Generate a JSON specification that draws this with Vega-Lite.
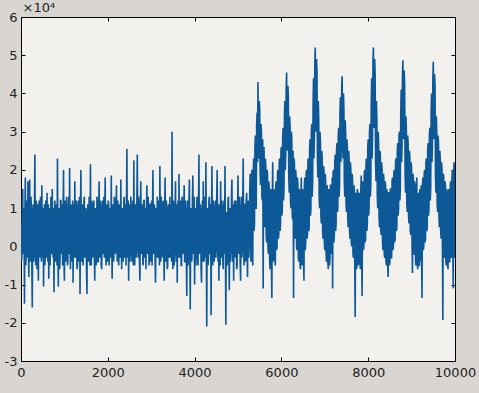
{
"$schema": "https://vega.github.io/schema/vega-lite/v6.json",
"width": 434,
"height": 344,
"autosize": {"type": "none"},
"padding": {"left": 21, "top": 17, "right": 24, "bottom": 32},
"background": "#d9d6d2",
"config": {
  "view": {"fill": "#f3f1ee", "stroke": "#000000", "strokeWidth": 1},
  "axis": {"labelFont": "DejaVu Sans", "labelFontSize": 13, "labelColor": "#222222", "titleFont": "DejaVu Sans", "grid": false, "domain": false, "tickColor": "#000000", "tickSize": -4, "labelFlush": false, "labelOverlap": false}
},
"layer": [
{
"data": {"values": [
{"x":0,"y":0.6},{"x":10,"y":-0.4},{"x":20,"y":-0.3},{"x":30,"y":1.1},{"x":40,"y":1.5},{"x":50,"y":-0.2},{"x":60,"y":0.1},{"x":70,"y":1.0},{"x":80,"y":-1.5},{"x":90,"y":0.9},
{"x":100,"y":1.8},{"x":110,"y":-0.5},{"x":120,"y":-0.2},{"x":130,"y":1.2},{"x":140,"y":1.0},{"x":150,"y":-0.3},{"x":160,"y":1.7},{"x":170,"y":0.0},{"x":180,"y":-0.8},{"x":190,"y":1.1},
{"x":200,"y":1.75},{"x":210,"y":-0.2},{"x":220,"y":-0.4},{"x":230,"y":1.3},{"x":240,"y":0.9},{"x":250,"y":-0.5},{"x":260,"y":-1.6},{"x":270,"y":0.8},{"x":280,"y":1.1},{"x":290,"y":-0.4},
{"x":300,"y":-0.2},{"x":310,"y":1.0},{"x":320,"y":2.4},{"x":330,"y":-0.1},{"x":340,"y":-0.5},{"x":350,"y":1.2},{"x":360,"y":0.8},{"x":370,"y":-0.6},{"x":380,"y":-0.1},{"x":390,"y":1.1},
{"x":400,"y":-0.9},{"x":410,"y":0.9},{"x":420,"y":1.2},{"x":430,"y":-0.3},{"x":440,"y":0.0},{"x":450,"y":1.3},{"x":460,"y":0.9},{"x":470,"y":-0.4},{"x":480,"y":1.6},{"x":490,"y":0.1},
{"x":500,"y":-0.3},{"x":510,"y":1.0},{"x":520,"y":-1.05},{"x":530,"y":0.8},{"x":540,"y":1.1},{"x":550,"y":-0.5},{"x":560,"y":-0.2},{"x":570,"y":1.2},{"x":580,"y":0.7},{"x":590,"y":-0.3},
{"x":600,"y":1.4},{"x":610,"y":0.0},{"x":620,"y":-0.4},{"x":630,"y":1.1},{"x":640,"y":-0.85},{"x":650,"y":0.9},{"x":660,"y":1.0},{"x":670,"y":-0.5},{"x":680,"y":0.1},{"x":690,"y":1.3},
{"x":700,"y":0.8},{"x":710,"y":-0.2},{"x":720,"y":1.5},{"x":730,"y":0.1},{"x":740,"y":-0.3},{"x":750,"y":1.0},{"x":760,"y":-1.2},{"x":770,"y":0.7},{"x":780,"y":1.2},{"x":790,"y":-0.4},
{"x":800,"y":-0.2},{"x":810,"y":1.1},{"x":820,"y":0.6},{"x":830,"y":-0.5},{"x":840,"y":2.3},{"x":850,"y":0.2},{"x":860,"y":-1.05},{"x":870,"y":1.0},{"x":880,"y":0.9},{"x":890,"y":-0.6},
{"x":900,"y":-0.3},{"x":910,"y":1.2},{"x":920,"y":1.2},{"x":930,"y":-0.2},{"x":940,"y":0.0},{"x":950,"y":1.1},{"x":960,"y":-0.5},{"x":970,"y":0.9},{"x":980,"y":2.0},{"x":990,"y":-0.3},
{"x":1000,"y":-0.9},{"x":1010,"y":1.2},{"x":1020,"y":1.0},{"x":1030,"y":-0.4},{"x":1040,"y":-0.1},{"x":1050,"y":1.3},{"x":1060,"y":0.8},{"x":1070,"y":-0.5},{"x":1080,"y":-0.4},{"x":1090,"y":0.9},
{"x":1100,"y":1.3},{"x":1110,"y":-0.2},{"x":1120,"y":2.05},{"x":1130,"y":0.3},{"x":1140,"y":-0.6},{"x":1150,"y":1.1},{"x":1160,"y":0.7},{"x":1170,"y":-0.4},{"x":1180,"y":0.1},{"x":1190,"y":1.2},
{"x":1200,"y":-0.95},{"x":1210,"y":0.8},{"x":1220,"y":1.1},{"x":1230,"y":-0.3},{"x":1240,"y":1.7},{"x":1250,"y":0.0},{"x":1260,"y":-0.3},{"x":1270,"y":1.2},{"x":1280,"y":0.9},{"x":1290,"y":-0.6},
{"x":1300,"y":-0.5},{"x":1310,"y":1.0},{"x":1320,"y":1.2},{"x":1330,"y":-0.4},{"x":1340,"y":0.2},{"x":1350,"y":1.3},{"x":1360,"y":-1.25},{"x":1370,"y":0.7},{"x":1380,"y":2.0},{"x":1390,"y":-0.2},
{"x":1400,"y":-0.4},{"x":1410,"y":1.1},{"x":1420,"y":0.9},{"x":1430,"y":-0.5},{"x":1440,"y":-0.1},{"x":1450,"y":1.2},{"x":1460,"y":1.3},{"x":1470,"y":-0.3},{"x":1480,"y":0.0},{"x":1490,"y":1.0},
{"x":1500,"y":0.8},{"x":1510,"y":-0.6},{"x":1520,"y":-1.25},{"x":1530,"y":0.9},{"x":1540,"y":1.1},{"x":1550,"y":-0.4},{"x":1560,"y":-0.3},{"x":1570,"y":1.3},{"x":1580,"y":0.7},{"x":1590,"y":-0.5},
{"x":1600,"y":2.15},{"x":1610,"y":0.1},{"x":1620,"y":-0.5},{"x":1630,"y":1.2},{"x":1640,"y":1.0},{"x":1650,"y":-0.3},{"x":1660,"y":0.1},{"x":1670,"y":1.1},{"x":1680,"y":1.2},{"x":1690,"y":-0.2},
{"x":1700,"y":-0.9},{"x":1710,"y":1.0},{"x":1720,"y":0.6},{"x":1730,"y":-0.5},{"x":1740,"y":-0.2},{"x":1750,"y":1.3},{"x":1760,"y":1.1},{"x":1770,"y":-0.4},{"x":1780,"y":-0.4},{"x":1790,"y":0.9},
{"x":1800,"y":1.7},{"x":1810,"y":-0.3},{"x":1820,"y":-0.1},{"x":1830,"y":1.2},{"x":1840,"y":0.9},{"x":1850,"y":-0.5},{"x":1860,"y":-0.6},{"x":1870,"y":1.0},{"x":1880,"y":1.2},{"x":1890,"y":-0.2},
{"x":1900,"y":0.2},{"x":1910,"y":1.3},{"x":1920,"y":-0.3},{"x":1930,"y":0.9},{"x":1940,"y":1.8},{"x":1950,"y":0.0},{"x":1960,"y":-0.5},{"x":1970,"y":1.1},{"x":1980,"y":0.8},{"x":1990,"y":-0.4},
{"x":2000,"y":-0.2},{"x":2010,"y":1.2},{"x":2020,"y":1.1},{"x":2030,"y":-0.5},{"x":2040,"y":0.0},{"x":2050,"y":1.0},{"x":2060,"y":0.7},{"x":2070,"y":-0.3},{"x":2080,"y":1.85},{"x":2090,"y":0.2},
{"x":2100,"y":-0.85},{"x":2110,"y":1.1},{"x":2120,"y":0.9},{"x":2130,"y":-0.4},{"x":2140,"y":-0.3},{"x":2150,"y":1.3},{"x":2160,"y":1.2},{"x":2170,"y":-0.2},{"x":2180,"y":0.1},{"x":2190,"y":1.0},
{"x":2200,"y":1.6},{"x":2210,"y":-0.1},{"x":2220,"y":-0.4},{"x":2230,"y":1.2},{"x":2240,"y":0.8},{"x":2250,"y":-0.5},{"x":2260,"y":-0.1},{"x":2270,"y":1.1},{"x":2280,"y":1.0},{"x":2290,"y":-0.3},
{"x":2300,"y":1.75},{"x":2310,"y":0.2},{"x":2320,"y":-0.6},{"x":2330,"y":1.0},{"x":2340,"y":0.6},{"x":2350,"y":-0.4},{"x":2360,"y":-0.2},{"x":2370,"y":1.2},{"x":2380,"y":1.3},{"x":2390,"y":-0.3},
{"x":2400,"y":0.0},{"x":2410,"y":1.1},{"x":2420,"y":-0.5},{"x":2430,"y":0.9},{"x":2440,"y":2.55},{"x":2450,"y":0.1},{"x":2460,"y":-0.3},{"x":2470,"y":1.2},{"x":2480,"y":-0.9},{"x":2490,"y":0.8},
{"x":2500,"y":1.1},{"x":2510,"y":-0.4},{"x":2520,"y":0.2},{"x":2530,"y":1.3},{"x":2540,"y":0.9},{"x":2550,"y":-0.2},{"x":2560,"y":-0.4},{"x":2570,"y":1.0},{"x":2580,"y":1.2},{"x":2590,"y":-0.5},
{"x":2600,"y":2.25},{"x":2610,"y":0.0},{"x":2620,"y":-0.5},{"x":2630,"y":1.1},{"x":2640,"y":0.8},{"x":2650,"y":-0.3},{"x":2660,"y":-0.1},{"x":2670,"y":1.2},{"x":2680,"y":2.4},{"x":2690,"y":0.2},
{"x":2700,"y":-0.3},{"x":2710,"y":1.3},{"x":2720,"y":1.0},{"x":2730,"y":-0.4},{"x":2740,"y":-0.9},{"x":2750,"y":0.9},{"x":2760,"y":1.7},{"x":2770,"y":-0.2},{"x":2780,"y":0.0},{"x":2790,"y":1.1},
{"x":2800,"y":0.8},{"x":2810,"y":-0.5},{"x":2820,"y":-0.4},{"x":2830,"y":1.2},{"x":2840,"y":1.2},{"x":2850,"y":-0.3},{"x":2860,"y":0.1},{"x":2870,"y":1.0},{"x":2880,"y":-0.6},{"x":2890,"y":0.9},
{"x":2900,"y":1.6},{"x":2910,"y":0.0},{"x":2920,"y":-0.2},{"x":2930,"y":1.3},{"x":2940,"y":0.9},{"x":2950,"y":-0.5},{"x":2960,"y":-0.3},{"x":2970,"y":1.1},{"x":2980,"y":1.1},{"x":2990,"y":-0.4},
{"x":3000,"y":0.0},{"x":3010,"y":1.2},{"x":3020,"y":-0.5},{"x":3030,"y":0.8},{"x":3040,"y":2.0},{"x":3050,"y":-0.1},{"x":3060,"y":-0.2},{"x":3070,"y":1.1},{"x":3080,"y":1.0},{"x":3090,"y":-0.4},
{"x":3100,"y":-0.95},{"x":3110,"y":1.0},{"x":3120,"y":0.7},{"x":3130,"y":-0.3},{"x":3140,"y":1.3},{"x":3150,"y":0.0},{"x":3160,"y":-0.3},{"x":3170,"y":1.2},{"x":3180,"y":0.6},{"x":3190,"y":-0.5},
{"x":3200,"y":2.1},{"x":3210,"y":0.1},{"x":3220,"y":-0.4},{"x":3230,"y":1.3},{"x":3240,"y":0.9},{"x":3250,"y":-0.3},{"x":3260,"y":0.0},{"x":3270,"y":1.1},{"x":3280,"y":1.2},{"x":3290,"y":-0.2},
{"x":3300,"y":-0.9},{"x":3310,"y":0.9},{"x":3320,"y":1.8},{"x":3330,"y":-0.4},{"x":3340,"y":-0.2},{"x":3350,"y":1.2},{"x":3360,"y":0.8},{"x":3370,"y":-0.6},{"x":3380,"y":-0.5},{"x":3390,"y":1.0},
{"x":3400,"y":1.1},{"x":3410,"y":-0.3},{"x":3420,"y":0.1},{"x":3430,"y":1.3},{"x":3440,"y":-0.3},{"x":3450,"y":1.1},{"x":3460,"y":0.9},{"x":3470,"y":-0.4},{"x":3480,"y":3.0},{"x":3490,"y":0.2},
{"x":3500,"y":-0.6},{"x":3510,"y":1.2},{"x":3520,"y":1.0},{"x":3530,"y":-0.5},{"x":3540,"y":-0.1},{"x":3550,"y":1.0},{"x":3560,"y":1.7},{"x":3570,"y":0.0},{"x":3580,"y":-0.4},{"x":3590,"y":1.1},
{"x":3600,"y":-0.95},{"x":3610,"y":0.8},{"x":3620,"y":1.2},{"x":3630,"y":-0.3},{"x":3640,"y":1.9},{"x":3650,"y":0.1},{"x":3660,"y":-0.3},{"x":3670,"y":1.2},{"x":3680,"y":0.8},{"x":3690,"y":-0.5},
{"x":3700,"y":-0.5},{"x":3710,"y":1.3},{"x":3720,"y":1.1},{"x":3730,"y":-0.2},{"x":3740,"y":0.0},{"x":3750,"y":1.0},{"x":3760,"y":1.6},{"x":3770,"y":-0.4},{"x":3780,"y":-0.4},{"x":3790,"y":1.2},
{"x":3800,"y":0.7},{"x":3810,"y":-0.3},{"x":3820,"y":-1.3},{"x":3830,"y":0.9},{"x":3840,"y":1.2},{"x":3850,"y":-0.5},{"x":3860,"y":-0.2},{"x":3870,"y":1.1},{"x":3880,"y":1.75},{"x":3890,"y":0.0},
{"x":3900,"y":-1.65},{"x":3910,"y":1.0},{"x":3920,"y":0.9},{"x":3930,"y":-0.4},{"x":3940,"y":-0.3},{"x":3950,"y":1.2},{"x":3960,"y":1.85},{"x":3970,"y":-0.2},{"x":3980,"y":-0.1},{"x":3990,"y":1.3},
{"x":4000,"y":-1.0},{"x":4010,"y":0.8},{"x":4020,"y":1.0},{"x":4030,"y":-0.5},{"x":4040,"y":0.1},{"x":4050,"y":1.2},{"x":4060,"y":1.3},{"x":4070,"y":-0.3},{"x":4080,"y":-0.5},{"x":4090,"y":1.0},
{"x":4100,"y":2.4},{"x":4110,"y":0.1},{"x":4120,"y":-0.2},{"x":4130,"y":1.1},{"x":4140,"y":0.9},{"x":4150,"y":-0.6},{"x":4160,"y":-0.95},{"x":4170,"y":0.9},{"x":4180,"y":1.2},{"x":4190,"y":-0.4},
{"x":4200,"y":1.7},{"x":4210,"y":0.0},{"x":4220,"y":-0.4},{"x":4230,"y":1.3},{"x":4240,"y":0.8},{"x":4250,"y":-0.3},{"x":4260,"y":2.2},{"x":4270,"y":0.2},{"x":4280,"y":-2.1},{"x":4290,"y":0.9},
{"x":4300,"y":1.0},{"x":4310,"y":-0.5},{"x":4320,"y":-0.3},{"x":4330,"y":1.2},{"x":4340,"y":1.3},{"x":4350,"y":-0.2},{"x":4360,"y":0.0},{"x":4370,"y":1.1},{"x":4380,"y":-1.8},{"x":4390,"y":0.8},
{"x":4400,"y":2.1},{"x":4410,"y":-0.1},{"x":4420,"y":-0.5},{"x":4430,"y":1.2},{"x":4440,"y":0.9},{"x":4450,"y":-0.4},{"x":4460,"y":-0.2},{"x":4470,"y":1.0},{"x":4480,"y":1.2},{"x":4490,"y":-0.3},
{"x":4500,"y":0.1},{"x":4510,"y":1.3},{"x":4520,"y":2.0},{"x":4530,"y":0.0},{"x":4540,"y":-0.4},{"x":4550,"y":1.1},{"x":4560,"y":-0.9},{"x":4570,"y":0.9},{"x":4580,"y":1.1},{"x":4590,"y":-0.5},
{"x":4600,"y":1.7},{"x":4610,"y":0.1},{"x":4620,"y":-0.3},{"x":4630,"y":1.2},{"x":4640,"y":0.8},{"x":4650,"y":-0.4},{"x":4660,"y":-0.6},{"x":4670,"y":1.0},{"x":4680,"y":1.2},{"x":4690,"y":-0.2},
{"x":4700,"y":2.1},{"x":4710,"y":0.2},{"x":4720,"y":-2.05},{"x":4730,"y":0.8},{"x":4740,"y":0.9},{"x":4750,"y":-0.5},{"x":4760,"y":-0.2},{"x":4770,"y":1.2},{"x":4780,"y":1.3},{"x":4790,"y":-0.3},
{"x":4800,"y":-1.15},{"x":4810,"y":0.9},{"x":4820,"y":1.0},{"x":4830,"y":-0.4},{"x":4840,"y":0.0},{"x":4850,"y":1.3},{"x":4860,"y":1.75},{"x":4870,"y":0.0},{"x":4880,"y":-0.4},{"x":4890,"y":1.1},
{"x":4900,"y":-0.9},{"x":4910,"y":1.0},{"x":4920,"y":1.2},{"x":4930,"y":-0.3},{"x":4940,"y":0.1},{"x":4950,"y":1.2},{"x":4960,"y":0.9},{"x":4970,"y":-0.6},{"x":4980,"y":-0.5},{"x":4990,"y":1.0},
{"x":5000,"y":1.85},{"x":5010,"y":-0.1},{"x":5020,"y":-0.2},{"x":5030,"y":1.3},{"x":5040,"y":0.9},{"x":5050,"y":-0.4},{"x":5060,"y":-0.9},{"x":5070,"y":0.9},{"x":5080,"y":1.3},{"x":5090,"y":-0.3},
{"x":5100,"y":0.0},{"x":5110,"y":1.2},{"x":5120,"y":2.3},{"x":5130,"y":0.1},{"x":5140,"y":-0.5},{"x":5150,"y":1.1},{"x":5160,"y":1.1},{"x":5170,"y":-0.4},{"x":5180,"y":-0.3},{"x":5190,"y":1.2},
{"x":5200,"y":1.4},{"x":5210,"y":-0.2},{"x":5220,"y":-0.8},{"x":5230,"y":1.0},{"x":5240,"y":1.2},{"x":5250,"y":-0.3},{"x":5260,"y":0.2},{"x":5270,"y":1.4},{"x":5280,"y":1.9},{"x":5290,"y":0.1},
{"x":5300,"y":-0.4},{"x":5310,"y":1.5},{"x":5320,"y":2.0},{"x":5330,"y":0.2},{"x":5340,"y":-0.5},{"x":5350,"y":1.8},{"x":5360,"y":2.3},{"x":5370,"y":0.4},{"x":5380,"y":0.6},{"x":5390,"y":2.6},
{"x":5400,"y":2.9},{"x":5410,"y":1.0},{"x":5420,"y":1.0},{"x":5430,"y":3.2},{"x":5440,"y":3.5},{"x":5450,"y":2.2},{"x":5460,"y":4.3},{"x":5470,"y":2.6},{"x":5480,"y":2.3},{"x":5490,"y":3.8},
{"x":5500,"y":3.6},{"x":5510,"y":1.9},{"x":5520,"y":1.6},{"x":5530,"y":3.2},{"x":5540,"y":3.0},{"x":5550,"y":1.3},{"x":5560,"y":1.2},{"x":5570,"y":2.8},{"x":5580,"y":-1.1},{"x":5590,"y":2.5},
{"x":5600,"y":2.6},{"x":5610,"y":0.7},{"x":5620,"y":0.5},{"x":5630,"y":2.3},{"x":5640,"y":2.1},{"x":5650,"y":0.3},{"x":5660,"y":0.1},{"x":5670,"y":2.0},{"x":5680,"y":1.9},{"x":5690,"y":0.0},
{"x":5700,"y":-0.2},{"x":5710,"y":1.7},{"x":5720,"y":1.5},{"x":5730,"y":-0.4},{"x":5740,"y":-0.6},{"x":5750,"y":1.5},{"x":5760,"y":1.4},{"x":5770,"y":-0.5},{"x":5780,"y":-1.35},{"x":5790,"y":1.2},
{"x":5800,"y":2.2},{"x":5810,"y":-0.4},{"x":5820,"y":-0.3},{"x":5830,"y":1.5},{"x":5840,"y":1.3},{"x":5850,"y":-0.3},{"x":5860,"y":-0.5},{"x":5870,"y":1.6},{"x":5880,"y":1.7},{"x":5890,"y":-0.1},
{"x":5900,"y":0.0},{"x":5910,"y":1.9},{"x":5920,"y":2.0},{"x":5930,"y":0.2},{"x":5940,"y":0.3},{"x":5950,"y":2.2},{"x":5960,"y":2.3},{"x":5970,"y":0.4},{"x":5980,"y":0.6},{"x":5990,"y":2.5},
{"x":6000,"y":2.6},{"x":6010,"y":0.8},{"x":6020,"y":0.9},{"x":6030,"y":2.9},{"x":6040,"y":3.1},{"x":6050,"y":1.2},{"x":6060,"y":1.5},{"x":6070,"y":3.4},{"x":6080,"y":3.8},{"x":6090,"y":2.0},
{"x":6100,"y":2.4},{"x":6110,"y":4.1},{"x":6120,"y":4.55},{"x":6130,"y":2.8},{"x":6140,"y":2.5},{"x":6150,"y":4.2},{"x":6160,"y":3.9},{"x":6170,"y":1.8},{"x":6180,"y":1.4},{"x":6190,"y":3.4},
{"x":6200,"y":3.1},{"x":6210,"y":1.2},{"x":6220,"y":1.0},{"x":6230,"y":3.0},{"x":6240,"y":2.8},{"x":6250,"y":0.8},{"x":6260,"y":0.7},{"x":6270,"y":2.5},{"x":6280,"y":-1.35},{"x":6290,"y":2.3},
{"x":6300,"y":2.2},{"x":6310,"y":0.3},{"x":6320,"y":0.2},{"x":6330,"y":2.0},{"x":6340,"y":1.8},{"x":6350,"y":0.0},{"x":6360,"y":-0.1},{"x":6370,"y":1.8},{"x":6380,"y":1.6},{"x":6390,"y":-0.3},
{"x":6400,"y":-0.4},{"x":6410,"y":1.5},{"x":6420,"y":1.3},{"x":6430,"y":-0.5},{"x":6440,"y":-0.6},{"x":6450,"y":1.4},{"x":6460,"y":1.8},{"x":6470,"y":-0.4},{"x":6480,"y":-0.5},{"x":6490,"y":1.5},
{"x":6500,"y":1.2},{"x":6510,"y":-0.3},{"x":6520,"y":-0.9},{"x":6530,"y":1.6},{"x":6540,"y":1.8},{"x":6550,"y":-0.1},{"x":6560,"y":0.1},{"x":6570,"y":1.9},{"x":6580,"y":2.0},{"x":6590,"y":0.2},
{"x":6600,"y":0.3},{"x":6610,"y":2.2},{"x":6620,"y":2.3},{"x":6630,"y":0.4},{"x":6640,"y":0.5},{"x":6650,"y":2.5},{"x":6660,"y":2.8},{"x":6670,"y":0.8},{"x":6680,"y":1.0},{"x":6690,"y":3.0},
{"x":6700,"y":3.2},{"x":6710,"y":1.3},{"x":6720,"y":1.7},{"x":6730,"y":3.7},{"x":6740,"y":4.4},{"x":6750,"y":2.3},{"x":6760,"y":2.9},{"x":6770,"y":4.8},{"x":6780,"y":5.2},{"x":6790,"y":3.3},
{"x":6800,"y":3.0},{"x":6810,"y":4.9},{"x":6820,"y":4.6},{"x":6830,"y":2.3},{"x":6840,"y":1.8},{"x":6850,"y":3.8},{"x":6860,"y":3.3},{"x":6870,"y":1.3},{"x":6880,"y":1.0},{"x":6890,"y":3.0},
{"x":6900,"y":2.7},{"x":6910,"y":0.8},{"x":6920,"y":0.6},{"x":6930,"y":2.5},{"x":6940,"y":2.3},{"x":6950,"y":0.4},{"x":6960,"y":0.2},{"x":6970,"y":2.1},{"x":6980,"y":2.0},{"x":6990,"y":0.1},
{"x":7000,"y":-0.1},{"x":7010,"y":1.9},{"x":7020,"y":1.7},{"x":7030,"y":-0.2},{"x":7040,"y":-0.4},{"x":7050,"y":1.6},{"x":7060,"y":1.5},{"x":7070,"y":-0.4},{"x":7080,"y":-0.6},{"x":7090,"y":1.5},
{"x":7100,"y":1.4},{"x":7110,"y":-0.5},{"x":7120,"y":-0.3},{"x":7130,"y":1.6},{"x":7140,"y":1.6},{"x":7150,"y":-0.2},{"x":7160,"y":0.0},{"x":7170,"y":1.8},{"x":7180,"y":-1.1},{"x":7190,"y":1.9},
{"x":7200,"y":2.0},{"x":7210,"y":0.1},{"x":7220,"y":0.3},{"x":7230,"y":2.2},{"x":7240,"y":2.4},{"x":7250,"y":0.4},{"x":7260,"y":0.6},{"x":7270,"y":2.5},{"x":7280,"y":2.7},{"x":7290,"y":0.9},
{"x":7300,"y":1.0},{"x":7310,"y":2.9},{"x":7320,"y":3.1},{"x":7330,"y":1.3},{"x":7340,"y":1.6},{"x":7350,"y":3.5},{"x":7360,"y":3.9},{"x":7370,"y":2.2},{"x":7380,"y":2.6},{"x":7390,"y":4.2},
{"x":7400,"y":4.45},{"x":7410,"y":2.7},{"x":7420,"y":2.3},{"x":7430,"y":4.0},{"x":7440,"y":3.6},{"x":7450,"y":1.7},{"x":7460,"y":1.3},{"x":7470,"y":3.3},{"x":7480,"y":3.0},{"x":7490,"y":1.1},
{"x":7500,"y":0.9},{"x":7510,"y":2.8},{"x":7520,"y":2.6},{"x":7530,"y":0.7},{"x":7540,"y":0.5},{"x":7550,"y":2.5},{"x":7560,"y":2.3},{"x":7570,"y":0.4},{"x":7580,"y":0.2},{"x":7590,"y":2.2},
{"x":7600,"y":2.0},{"x":7610,"y":0.1},{"x":7620,"y":0.0},{"x":7630,"y":1.9},{"x":7640,"y":1.7},{"x":7650,"y":-0.2},{"x":7660,"y":-0.3},{"x":7670,"y":1.6},{"x":7680,"y":1.5},{"x":7690,"y":-0.4},
{"x":7700,"y":-1.85},{"x":7710,"y":1.4},{"x":7720,"y":1.3},{"x":7730,"y":-0.6},{"x":7740,"y":-0.5},{"x":7750,"y":1.5},{"x":7760,"y":1.4},{"x":7770,"y":-0.5},{"x":7780,"y":-0.4},{"x":7790,"y":1.4},
{"x":7800,"y":1.3},{"x":7810,"y":-0.4},{"x":7820,"y":-0.6},{"x":7830,"y":1.5},{"x":7840,"y":1.85},{"x":7850,"y":-0.2},{"x":7860,"y":-1.3},{"x":7870,"y":1.6},{"x":7880,"y":1.7},{"x":7890,"y":-0.1},
{"x":7900,"y":0.0},{"x":7910,"y":1.9},{"x":7920,"y":2.0},{"x":7930,"y":0.1},{"x":7940,"y":0.2},{"x":7950,"y":2.2},{"x":7960,"y":2.3},{"x":7970,"y":0.4},{"x":7980,"y":0.6},{"x":7990,"y":2.6},
{"x":8000,"y":2.8},{"x":8010,"y":0.8},{"x":8020,"y":1.0},{"x":8030,"y":3.0},{"x":8040,"y":3.2},{"x":8050,"y":1.3},{"x":8060,"y":1.6},{"x":8070,"y":3.7},{"x":8080,"y":4.4},{"x":8090,"y":2.3},
{"x":8100,"y":2.9},{"x":8110,"y":4.8},{"x":8120,"y":5.2},{"x":8130,"y":3.3},{"x":8140,"y":3.1},{"x":8150,"y":4.9},{"x":8160,"y":4.5},{"x":8170,"y":2.2},{"x":8180,"y":1.7},{"x":8190,"y":3.8},
{"x":8200,"y":3.3},{"x":8210,"y":1.3},{"x":8220,"y":1.0},{"x":8230,"y":3.0},{"x":8240,"y":2.7},{"x":8250,"y":0.8},{"x":8260,"y":0.5},{"x":8270,"y":2.5},{"x":8280,"y":2.4},{"x":8290,"y":0.4},
{"x":8300,"y":0.3},{"x":8310,"y":2.2},{"x":8320,"y":2.0},{"x":8330,"y":0.1},{"x":8340,"y":-0.1},{"x":8350,"y":1.9},{"x":8360,"y":1.8},{"x":8370,"y":-0.2},{"x":8380,"y":-0.3},{"x":8390,"y":1.7},
{"x":8400,"y":1.6},{"x":8410,"y":-0.4},{"x":8420,"y":-0.5},{"x":8430,"y":1.5},{"x":8440,"y":1.3},{"x":8450,"y":-0.5},{"x":8460,"y":-0.8},{"x":8470,"y":1.4},{"x":8480,"y":1.4},{"x":8490,"y":-0.5},
{"x":8500,"y":-0.4},{"x":8510,"y":1.5},{"x":8520,"y":1.5},{"x":8530,"y":-0.3},{"x":8540,"y":-0.3},{"x":8550,"y":1.7},{"x":8560,"y":1.8},{"x":8570,"y":-0.1},{"x":8580,"y":0.0},{"x":8590,"y":1.9},
{"x":8600,"y":2.0},{"x":8610,"y":0.1},{"x":8620,"y":0.2},{"x":8630,"y":2.2},{"x":8640,"y":2.3},{"x":8650,"y":0.4},{"x":8660,"y":0.5},{"x":8670,"y":2.5},{"x":8680,"y":2.7},{"x":8690,"y":0.8},
{"x":8700,"y":1.0},{"x":8710,"y":2.9},{"x":8720,"y":3.0},{"x":8730,"y":1.2},{"x":8740,"y":1.5},{"x":8750,"y":3.5},{"x":8760,"y":4.1},{"x":8770,"y":2.2},{"x":8780,"y":2.7},{"x":8790,"y":4.5},
{"x":8800,"y":4.87},{"x":8810,"y":3.0},{"x":8820,"y":2.8},{"x":8830,"y":4.6},{"x":8840,"y":4.2},{"x":8850,"y":1.9},{"x":8860,"y":1.4},{"x":8870,"y":3.4},{"x":8880,"y":3.0},{"x":8890,"y":1.1},
{"x":8900,"y":0.9},{"x":8910,"y":2.9},{"x":8920,"y":2.7},{"x":8930,"y":0.8},{"x":8940,"y":0.6},{"x":8950,"y":2.5},{"x":8960,"y":2.3},{"x":8970,"y":0.4},{"x":8980,"y":0.3},{"x":8990,"y":2.2},
{"x":9000,"y":2.0},{"x":9010,"y":0.1},{"x":9020,"y":-0.7},{"x":9030,"y":1.9},{"x":9040,"y":1.8},{"x":9050,"y":-0.2},{"x":9060,"y":-0.2},{"x":9070,"y":1.7},{"x":9080,"y":1.5},{"x":9090,"y":-0.4},
{"x":9100,"y":-0.5},{"x":9110,"y":1.5},{"x":9120,"y":1.8},{"x":9130,"y":-0.4},{"x":9140,"y":-0.6},{"x":9150,"y":1.4},{"x":9160,"y":1.3},{"x":9170,"y":-0.5},{"x":9180,"y":-0.5},{"x":9190,"y":1.5},
{"x":9200,"y":1.4},{"x":9210,"y":-0.4},{"x":9220,"y":1.6},{"x":9230,"y":-0.2},{"x":9240,"y":-1.35},{"x":9250,"y":1.6},{"x":9260,"y":1.8},{"x":9270,"y":-0.1},{"x":9280,"y":0.0},{"x":9290,"y":1.9},
{"x":9300,"y":2.0},{"x":9310,"y":0.1},{"x":9320,"y":0.2},{"x":9330,"y":2.2},{"x":9340,"y":2.3},{"x":9350,"y":0.4},{"x":9360,"y":0.5},{"x":9370,"y":2.5},{"x":9380,"y":2.7},{"x":9390,"y":0.8},
{"x":9400,"y":1.0},{"x":9410,"y":2.9},{"x":9420,"y":3.1},{"x":9430,"y":1.2},{"x":9440,"y":1.5},{"x":9450,"y":3.5},{"x":9460,"y":4.0},{"x":9470,"y":2.2},{"x":9480,"y":2.7},{"x":9490,"y":4.4},
{"x":9500,"y":4.83},{"x":9510,"y":3.0},{"x":9520,"y":2.8},{"x":9530,"y":4.5},{"x":9540,"y":4.2},{"x":9550,"y":1.9},{"x":9560,"y":1.4},{"x":9570,"y":3.4},{"x":9580,"y":3.0},{"x":9590,"y":1.1},
{"x":9600,"y":0.9},{"x":9610,"y":2.9},{"x":9620,"y":2.7},{"x":9630,"y":0.8},{"x":9640,"y":0.5},{"x":9650,"y":2.5},{"x":9660,"y":2.3},{"x":9670,"y":0.4},{"x":9680,"y":0.2},{"x":9690,"y":2.2},
{"x":9700,"y":2.0},{"x":9710,"y":0.1},{"x":9720,"y":-1.93},{"x":9730,"y":1.9},{"x":9740,"y":1.8},{"x":9750,"y":-0.2},{"x":9760,"y":-0.3},{"x":9770,"y":1.7},{"x":9780,"y":1.6},{"x":9790,"y":-0.4},
{"x":9800,"y":-0.5},{"x":9810,"y":1.5},{"x":9820,"y":1.4},{"x":9830,"y":-0.5},{"x":9840,"y":-0.6},{"x":9850,"y":1.4},{"x":9860,"y":1.5},{"x":9870,"y":-0.4},{"x":9880,"y":-0.4},{"x":9890,"y":1.6},
{"x":9900,"y":1.7},{"x":9910,"y":-0.3},{"x":9920,"y":-0.2},{"x":9930,"y":1.8},{"x":9940,"y":2.0},{"x":9950,"y":-0.1},{"x":9960,"y":-1.1},{"x":9970,"y":2.0},{"x":9980,"y":2.2},{"x":9990,"y":0.0},
{"x":10000,"y":-0.3}
]},
"mark": {"type": "line", "color": "#0d5896", "strokeWidth": 1.6, "clip": true},
"encoding": {
  "x": {"field": "x", "type": "quantitative", "scale": {"domain": [0, 10000], "nice": false, "zero": false},
        "axis": {"orient": "bottom", "values": [0, 2000, 4000, 6000, 8000, 10000], "title": null, "labelPadding": 9, "labelExpr": "'' + datum.value"}},
  "y": {"field": "y", "type": "quantitative", "scale": {"domain": [-3, 6], "nice": false, "zero": false},
        "axis": {"orient": "left", "values": [-3, -2, -1, 0, 1, 2, 3, 4, 5, 6], "labelPadding": 8, "labelExpr": "'' + datum.value",
                 "title": "×10⁴", "titleAngle": 0, "titleX": 1, "titleY": -3, "titleAlign": "left", "titleBaseline": "bottom",
                 "titleFontWeight": "normal", "titleFontSize": 13, "titleColor": "#222222"}}
}
},
{
"data": {"values": [{"x": 0, "y": 0}]},
"mark": {"type": "point", "opacity": 0},
"encoding": {
  "x": {"field": "x", "type": "quantitative", "axis": {"orient": "top", "values": [0, 2000, 4000, 6000, 8000, 10000], "labels": false, "title": null}},
  "y": {"field": "y", "type": "quantitative", "axis": {"orient": "right", "values": [-3, -2, -1, 0, 1, 2, 3, 4, 5, 6], "labels": false, "title": null}}
}
}
],
"resolve": {"axis": {"x": "independent", "y": "independent"}}
}
